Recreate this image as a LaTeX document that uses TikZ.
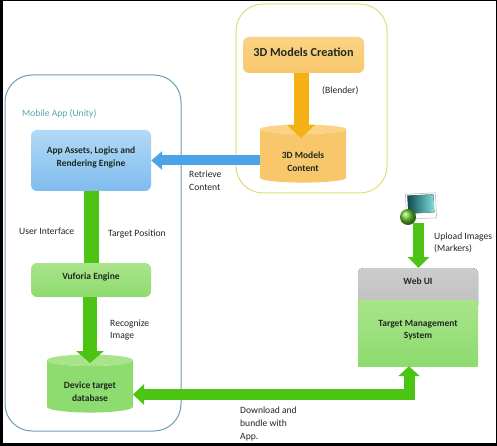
\documentclass[tikz,border=0pt]{standalone}
\usepackage{fontspec}
\setmainfont{Carlito}
\usetikzlibrary{arrows.meta,shapes.geometric,calc}
\newcommand{\nudgetext}[2]{\raisebox{#1}[\height][\depth]{#2}}
\definecolor{garrow}{HTML}{4CC414}
\definecolor{oarrow}{HTML}{F5B014}
\definecolor{barrow}{HTML}{4DA3E8}
\definecolor{ofill}{HTML}{F8C76C}
\definecolor{otop}{HTML}{FBD384}
\definecolor{gfilltop}{HTML}{A8E48A}
\definecolor{gfillbot}{HTML}{8EDB70}
\definecolor{btop}{HTML}{B3D9F6}
\definecolor{bbot}{HTML}{7FBCEE}
\definecolor{inktext}{HTML}{1E2A20}
\definecolor{frameblue}{HTML}{6F9DB5}
\definecolor{frameyellow}{HTML}{E2DC78}
\definecolor{tealtext}{HTML}{5AA5AE}
\definecolor{pictl}{HTML}{0F4A50}
\definecolor{picbr}{HTML}{7FE0DC}
\definecolor{globe}{HTML}{62C226}
\tikzset{
  x=1pt,y=-1pt,
  every node/.style={font=\fontsize{9.6}{12.6}\selectfont,text=inktext,align=left,inner sep=0pt},
  boxlabel/.style={font=\fontsize{9.5}{12.6}\selectfont\bfseries,align=center},
  blockbox/.style={rounded corners=6pt,minimum width=120pt,boxlabel},
  frame/.style={rounded corners=27pt,line width=1pt},
  can/.style={cylinder,shape border rotate=90,aspect=0.22,boxlabel,minimum width=86pt,minimum height=58pt,cylinder uses custom fill},
  gtip/.style={-{Triangle[length=12pt,width=27pt]}},
}
\begin{document}
\begin{tikzpicture}
\useasboundingbox (0,0) rectangle (497,446);
\fill[white] (0,0) rectangle (497,446);
\fill[black] (0,0) rectangle (3,446);
\fill[black] (0,443) rectangle (497,446);
\fill[black] (0,0) rectangle (497,1);
\fill[black] (496,0) rectangle (497,446);
% frames
\draw[frame,draw=frameblue] (5,75) rectangle (181,431);
\draw[frame,draw=frameyellow] (236,4) rectangle (387,193);
% boxes
\node[blockbox,minimum width=121pt,minimum height=36pt,top color=otop,bottom color=ofill,font=\fontsize{12.2}{15}\selectfont\bfseries] (creation) at (303.5,55) {\nudgetext{3pt}{3D Models Creation}};
\node[can,cylinder body fill=ofill,cylinder end fill=otop] (content) at (303,156) {\nudgetext{-6pt}{3D Models}\\\nudgetext{-6pt}{Content}};
\node[blockbox,minimum height=61pt,top color=btop,bottom color=bbot] (engine) at (91,160.5) {\nudgetext{3pt}{App Assets, Logics and}\\\nudgetext{3pt}{Rendering Engine}};
\node[blockbox,minimum height=34pt,top color=gfilltop,bottom color=gfillbot] (vuforia) at (91,280) {\nudgetext{3pt}{Vuforia Engine}};
\node[can,cylinder body fill=gfillbot,cylinder end fill=gfilltop] (db) at (90,386.5) {\nudgetext{-5pt}{Device target}\\\nudgetext{-5pt}{database}};
% web UI block
\fill[rounded corners=5pt,top color=gray!40,bottom color=gray!50] (358,268) rectangle (478,310);
\node[boxlabel,minimum width=120pt,minimum height=66pt,fill=gfillbot,top color=gfilltop,bottom color=gfillbot] (tms) at (418,333) {\nudgetext{3pt}{Target Management}\\\nudgetext{3pt}{System}};
\node[boxlabel,minimum width=120pt,minimum height=26pt] (webui) at (418,281) {Web UI};
% image icon
\node[minimum width=30pt,minimum height=25pt,fill=white,draw=gray!50,line width=0.6pt,rotate=3] (icon) at (421,206) {};
\fill[left color=pictl,right color=picbr,rotate around={3:(421,206)}] (408,195) rectangle (434,213);
\shade[ball color=globe] (408,217) circle (8);
% arrows
\coordinate (orangetip) at (301,138);
\draw[oarrow,line width=15pt,-{Triangle[length=13pt,width=27pt]}] (creation.south -| orangetip) -- (orangetip);
\coordinate (bluestart) at (260,160.5);
\draw[barrow,line width=10pt,-{Triangle[length=11pt,width=18pt]}] (bluestart) -- (engine.east);
\coordinate (engfoot) at (91.5,191);
\draw[garrow,line width=15pt] (engfoot) -- (engfoot |- vuforia.north);
\coordinate (dbtip) at (90,363);
\draw[garrow,line width=14pt,gtip] (vuforia.south -| dbtip) -- (dbtip);
\coordinate (elbow) at (409,394.5);
\coordinate (dbin) at (133,394.5);
\draw[garrow,line width=11pt,{Triangle[length=11pt,width=20pt]}-{Triangle[length=10pt,width=21pt]}] (dbin) -- (elbow) -- (elbow |- tms.south);
\coordinate (iconfoot) at (418.5,223);
\coordinate (webtop) at (418.5,268);
\draw[garrow,line width=11pt,-{Triangle[length=11pt,width=21pt]}] (iconfoot) -- (webtop);
% labels
\node[anchor=west,text=tealtext] (mobile) at (22,114) {Mobile App (Unity)};
\node[anchor=west] (blender) at (322,91) {(Blender)};
\node[anchor=west] (retrieve) at (189,180.5) {Retrieve\\Content};
\node[anchor=west] (ui) at (19,231) {User Interface};
\node[anchor=west] (target) at (108,234) {Target Position};
\node[anchor=west] (recog) at (110,330) {Recognize\\Image};
\node[anchor=west] (dl) at (240,424) {Download and\\bundle with\\App.};
\node[anchor=west] (upload) at (434,243) {Upload Images\\(Markers)};
\end{tikzpicture}
\end{document}
